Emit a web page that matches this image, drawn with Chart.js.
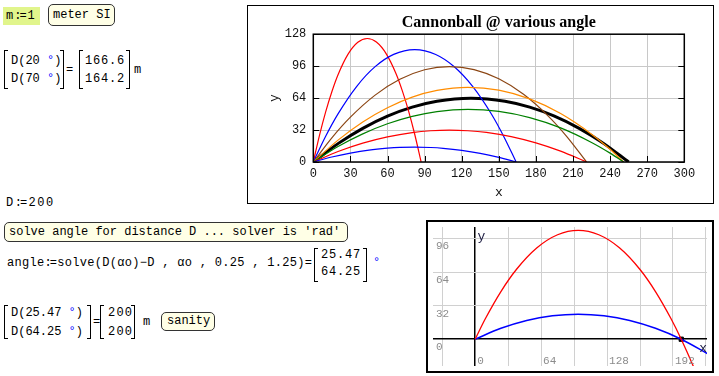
<!DOCTYPE html>
<html>
<head>
<meta charset="utf-8">
<script src="https://cdn.jsdelivr.net/npm/chart.js@4"></script>
<style>
body { margin: 0; background: #fff; width: 719px; height: 376px; overflow: hidden; position: relative;
       font: 12px "Liberation Mono", monospace; color: #000; }
.t { position: absolute; white-space: pre; line-height: 14px; }
.box { position: absolute; border: 1px solid #333; border-radius: 5px; background: #ffffe6; box-sizing: border-box; }
.deg { color: #0000ff; }
.def { letter-spacing: -2px; }
.lb, .rb { position: absolute; border: 1px solid #000; width: 4px; box-sizing: border-box; }
.lb { border-right: none; }
.rb { border-left: none; }
.num { letter-spacing: 0.8px; }
#top { position: absolute; left: 247px; top: 5px; width: 467px; height: 199px; border: 1px solid #000; box-sizing: border-box; }
#bot { position: absolute; left: 426px; top: 220px; width: 288px; height: 153px; border: 2px solid #000; box-sizing: border-box; }
canvas { position: absolute; left: 0; top: 0; }
</style>
</head>
<body>

<div style="position:absolute;left:3px;top:7px;width:37px;height:18px;background:#e1f58c"></div>
<span class="t" style="left:6px;top:9px;letter-spacing:1px">m<span class="def">:</span>=1</span>
<div class="box" style="left:48px;top:4px;width:67px;height:22px"></div>
<span class="t" style="left:53px;top:8px">meter SI</span>

<div class="lb" style="left:4px;top:50px;height:39px"></div>
<span class="t" style="left:11px;top:54px">D(20 <span class="deg">°</span>)</span>
<span class="t" style="left:11px;top:72px">D(70 <span class="deg">°</span>)</span>
<div class="rb" style="left:60px;top:50px;height:39px"></div>
<span class="t" style="left:66px;top:63px">=</span>
<div class="lb" style="left:79px;top:50px;height:39px"></div>
<span class="t num" style="left:85px;top:54px">166.6</span>
<span class="t num" style="left:85px;top:72px">164.2</span>
<div class="rb" style="left:126px;top:50px;height:39px"></div>
<span class="t" style="left:134px;top:63px">m</span>

<span class="t" style="left:6px;top:196px;letter-spacing:1.5px">D<span class="def">:</span>=200</span>

<div class="box" style="left:4px;top:222px;width:344px;height:20px"></div>
<span class="t" style="left:9px;top:225px">solve angle for distance D ... solver is 'rad'</span>

<span class="t" style="left:7px;top:256px;letter-spacing:0.3px">angle<span class="def">:</span>=solve(D(αo)−D , αo , 0.25 , 1.25)=</span>
<div class="lb" style="left:314px;top:248px;height:34px"></div>
<span class="t num" style="left:321px;top:248px">25.47</span>
<span class="t num" style="left:321px;top:265px">64.25</span>
<div class="rb" style="left:363px;top:248px;height:34px"></div>
<span class="t deg" style="left:373px;top:256px">°</span>

<div class="lb" style="left:4px;top:305px;height:34px"></div>
<span class="t" style="left:11px;top:306px">D(25.47 <span class="deg">°</span>)</span>
<span class="t" style="left:11px;top:325px">D(64.25 <span class="deg">°</span>)</span>
<div class="rb" style="left:87px;top:305px;height:34px"></div>
<span class="t" style="left:93px;top:315px">=</span>
<div class="lb" style="left:100px;top:305px;height:34px"></div>
<span class="t" style="left:108px;top:306px;letter-spacing:1.2px">200</span>
<span class="t" style="left:108px;top:325px;letter-spacing:1.2px">200</span>
<div class="rb" style="left:131px;top:305px;height:34px"></div>
<span class="t" style="left:143px;top:315px">m</span>
<div class="box" style="left:161px;top:312px;width:54px;height:19px"></div>
<span class="t" style="left:167px;top:314px">sanity</span>

<div id="top"><canvas id="upper" width="465" height="197"></canvas></div>
<div id="bot"><canvas id="lower" width="284" height="149"></canvas></div>

<script>
// trajectories (x, y in m), one pair per launch angle
const x20 = [0, 15, 30, 45, 60, 70, 82, 95, 105, 120, 135, 150, 164];
const y20 = [0, 5.0, 8.9, 11.9, 13.8, 14.6, 14.9, 14.5, 13.7, 11.7, 8.7, 4.6, 0];
const x30 = [0, 20, 40, 60, 80, 95, 110, 125, 140, 160, 180, 200, 221];
const y30 = [0, 10.5, 18.9, 25.2, 29.5, 31.3, 31.9, 31.3, 29.6, 25.5, 19.2, 10.9, 0];
const x40 = [0, 20, 40, 60, 80, 100, 125, 150, 175, 200, 225, 240, 251];
const y40 = [0, 15.5, 28.2, 38.3, 45.7, 50.5, 52.7, 50.7, 44.5, 34.2, 19.6, 8.9, 0];
const x45 = [0, 20, 40, 60, 80, 100, 127.5, 155, 175, 195, 215, 235, 255];
const y45 = [0, 18.4, 33.7, 45.9, 54.9, 60.8, 63.8, 60.8, 54.9, 45.9, 33.7, 18.4, 0];
const x50 = [0, 20, 40, 60, 80, 100, 125, 150, 175, 200, 225, 240, 251];
const y50 = [0, 21.9, 40.1, 54.4, 65.0, 71.7, 74.8, 72.0, 63.2, 48.5, 27.9, 12.7, 0];
const x60 = [0, 15, 30, 50, 70, 90, 110, 130, 150, 170, 190, 205, 221];
const y60 = [0, 24.2, 44.9, 67.0, 82.8, 92.4, 95.6, 92.6, 83.3, 67.8, 46.0, 25.5, 0];
const x70 = [0, 10, 20, 35, 50, 65, 82, 99, 114, 129, 144, 154, 164];
const y70 = [0, 25.8, 48.2, 75.6, 95.5, 107.8, 112.6, 107.7, 95.4, 75.5, 48.1, 25.6, 0];
const x80 = [0, 5, 10, 15, 20, 28, 36, 43.6, 51, 59, 67, 72, 77, 82, 87.2];
const y80 = [0, 26.7, 50.2, 70.4, 87.4, 107.8, 119.9, 123.7, 120.1, 108.3, 88.1, 71.2, 51.2, 27.8, 0];

// lower plot: the two solved angles for D = 200
const redX = [0, 10, 25, 40, 60, 80, 100, 120, 140, 160, 175, 190, 200, 212, 218];
const redY = [0, 19.7, 45.4, 66.4, 87.1, 99.5, 103.7, 99.5, 87.1, 66.4, 45.4, 19.7, 0, -26.4, -40.8];
const blueX = [0, 25, 50, 75, 100, 125, 150, 175, 200, 226];
const blueY = [0, 10.4, 17.9, 22.3, 23.8, 22.3, 17.9, 10.4, 0, -14.0];
const hitX = [200];
const hitY = [0];

const lowerGridX = [-32, 0, 32, 64, 96, 128, 160, 192, 224];
const lowerGridY = [0, 32, 64, 96];
const lowerXLabels = [0, 64, 128, 192];
const lowerYLabels = [0, 32, 64, 96];

const pts = (xs, ys) => xs.map((v, i) => ({ x: v, y: ys[i] }));

const curve = (xs, ys, color, width) => ({
    data: pts(xs, ys),
    borderColor: color,
    borderWidth: width,
    showLine: true,
    pointRadius: 0,
    cubicInterpolationMode: 'monotone',
    fill: false
});

const tickFont = { family: 'Liberation Mono', size: 12 };
const labelFont = { family: 'Liberation Mono', size: 13 };

// frame round the plot and short inner tick marks
const frame = {
    id: 'frame',
    afterDatasetsDraw(chart) {
        const { ctx, chartArea: a, scales: { x, y } } = chart;
        ctx.save();
        ctx.strokeStyle = '#000';
        ctx.lineWidth = 1;
        ctx.beginPath();
        x.ticks.forEach(t => {
            const px = Math.round(x.getPixelForValue(t.value)) + 0.5;
            ctx.moveTo(px, a.bottom);
            ctx.lineTo(px, a.bottom - 6);
        });
        y.ticks.forEach(t => {
            const py = Math.round(y.getPixelForValue(t.value)) + 0.5;
            ctx.moveTo(a.left, py);
            ctx.lineTo(a.left + 6, py);
            ctx.moveTo(a.right, py);
            ctx.lineTo(a.right - 6, py);
        });
        ctx.stroke();
        ctx.lineWidth = 1.5;
        ctx.strokeRect(a.left, a.top, a.right - a.left, a.bottom - a.top);
        ctx.restore();
    }
};

new Chart(document.getElementById('upper'), {
    type: 'scatter',
    data: {
        datasets: [
            curve(x20, y20, '#0000ff', 1.2),
            curve(x30, y30, '#ff0000', 1.2),
            curve(x40, y40, '#008000', 1.2),
            curve(x50, y50, '#ff8c00', 1.2),
            curve(x60, y60, '#8b4513', 1.2),
            curve(x70, y70, '#0000ff', 1.2),
            curve(x80, y80, '#ff0000', 1.2),
            curve(x45, y45, '#000000', 3)
        ]
    },
    options: {
        responsive: false,
        animation: false,
        layout: { padding: { left: 0, right: 28.7, top: 0, bottom: 0 } },
        plugins: {
            legend: { display: false },
            tooltip: { enabled: false },
            title: {
                display: true,
                text: 'Cannonball @ various angle',
                fullSize: false,
                color: '#000',
                font: { family: 'Liberation Serif', size: 16, weight: 'bold' },
                padding: { top: 7, bottom: 2 }
            }
        },
        scales: {
            x: {
                type: 'linear',
                min: 0,
                max: 300,
                afterFit: s => { s.height = 41; },
                ticks: { stepSize: 30, font: tickFont, color: '#111', padding: 5, maxRotation: 0 },
                grid: { color: '#c8c8c8', drawTicks: false },
                border: { display: false },
                title: { display: true, text: 'x', font: labelFont, color: '#111', padding: { top: 0, bottom: 2.5 } }
            },
            y: {
                type: 'linear',
                min: 0,
                max: 128,
                afterFit: s => { s.width = 65.3; },
                ticks: { stepSize: 32, font: tickFont, color: '#111', padding: 7 },
                grid: { color: '#c8c8c8', drawTicks: false },
                border: { display: false },
                title: { display: true, text: 'y', font: labelFont, color: '#111', padding: { top: 19, bottom: 0 } }
            }
        }
    },
    plugins: [frame]
});

// tick labels and axis names drawn inside the lower plot
const lowerLabels = {
    id: 'lowerLabels',
    afterDatasetsDraw(chart) {
        const { ctx, chartArea: a, scales: { x, y } } = chart;
        ctx.save();
        ctx.font = '11px "Liberation Mono"';
        ctx.fillStyle = '#8c8c8c';
        ctx.textAlign = 'left';
        ctx.textBaseline = 'middle';
        lowerYLabels.forEach(v => ctx.fillText(String(v), a.left + 3, y.getPixelForValue(v) + 8));
        lowerXLabels.forEach(v => ctx.fillText(String(v), x.getPixelForValue(v) + 2, a.bottom - 5));
        ctx.font = '13px "Liberation Mono"';
        ctx.fillStyle = '#1a1a40';
        ctx.fillText('y', x.getPixelForValue(2.4), y.getPixelForValue(98));
        ctx.fillText('x', x.getPixelForValue(217.5), y.getPixelForValue(-8.5));
        ctx.restore();
    }
};

const lowerGrid = {
    drawTicks: false,
    color: c => (c.tick && c.tick.value === 0 ? '#000' : '#d0d0d0'),
    lineWidth: c => (c.tick && c.tick.value === 0 ? 1.5 : 1)
};

new Chart(document.getElementById('lower'), {
    type: 'scatter',
    data: {
        datasets: [
            curve(redX, redY, '#ff0000', 1.3),
            curve(blueX, blueY, '#0000ff', 1.5),
            {
                data: pts(hitX, hitY),
                pointStyle: 'rect',
                pointRadius: 3,
                backgroundColor: '#000',
                borderColor: '#000',
                showLine: false
            }
        ]
    },
    options: {
        responsive: false,
        animation: false,
        layout: { padding: 0 },
        plugins: { legend: { display: false }, tooltip: { enabled: false } },
        scales: {
            x: {
                type: 'linear',
                min: -40.9,
                max: 225,
                afterFit: s => { s.height = 0; },
                afterBuildTicks: s => { s.ticks = lowerGridX.map(v => ({ value: v })); },
                ticks: { display: false },
                grid: lowerGrid,
                border: { display: false }
            },
            y: {
                type: 'linear',
                min: -25.5,
                max: 106.9,
                afterFit: s => { s.width = 0; },
                afterBuildTicks: s => { s.ticks = lowerGridY.map(v => ({ value: v })); },
                ticks: { display: false },
                grid: lowerGrid,
                border: { display: false }
            }
        }
    },
    plugins: [lowerLabels]
});
</script>
</body>
</html>
